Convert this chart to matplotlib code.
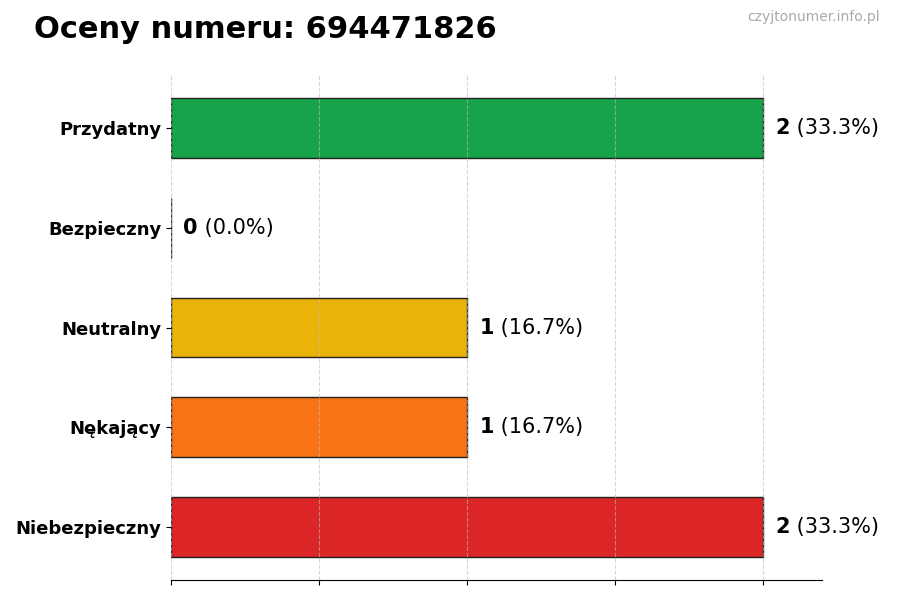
import matplotlib
matplotlib.use('Agg')
import matplotlib.pyplot as plt

# dane
kategorie = ['Niebezpieczny', 'Nękający', 'Neutralny', 'Bezpieczny', 'Przydatny']
liczby = [2, 1, 1, 0, 2]
procenty = [33.3, 16.7, 16.7, 0.0, 33.3]
kolory = ['#dc2626', '#f97316', '#eab308', '#16a34a', '#16a34a']
numer = '694471826'

fig = plt.figure(figsize=(9, 6), dpi=100)
ax = fig.add_axes([0.19, 0.0333, 0.7233, 0.8417])

ax.barh(range(len(kategorie)), liczby, height=0.6, color=kolory,
        edgecolor='#222222', linewidth=1, zorder=1)

ax.set_xlim(0, 2.2)
ax.set_xticks([0, 0.5, 1, 1.5, 2])
ax.set_xticklabels([])
ax.set_yticks(range(len(kategorie)))
ax.set_yticklabels(kategorie, fontsize=13, fontweight='bold')
ax.grid(axis='x', linestyle='--', color='#bbbbbb', linewidth=0.8, alpha=0.6, zorder=2)
ax.set_axisbelow(False)
for s in ['top', 'right', 'left']:
    ax.spines[s].set_visible(False)

# etykiety wartości
for i, (n, p) in enumerate(zip(liczby, procenty)):
    t = ax.annotate(str(n), xy=(n, i), xytext=(9, 0), textcoords='offset points',
                    va='center', ha='left', fontsize=15, fontweight='bold')
    ax.annotate(f' ({p:.1f}%)', xy=(1, 0.5), xycoords=t, va='center', ha='left',
                fontsize=15)

fig.text(0.038, 0.95, f'Oceny numeru: {numer}', fontsize=22, fontweight='bold',
         va='center', ha='left')
fig.text(0.978, 0.972, 'czyjtonumer.info.pl', fontsize=10, color='#aaaaaa',
         va='center', ha='right')

fig.savefig('out.png', dpi=100)
